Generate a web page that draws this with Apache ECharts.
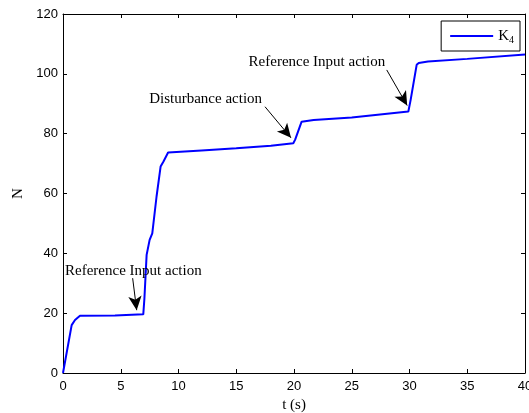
<!DOCTYPE html>
<html><head><meta charset="utf-8">
<script src="https://cdn.jsdelivr.net/npm/echarts@6/dist/echarts.min.js"></script>
<style>html,body{margin:0;padding:0;background:#fff}#c{width:529px;height:413px}</style>
</head><body><div id="c"></div>
<script>
const tValues = [0,0.75,1.04,1.47,4.5,4.6,6.95,7.05,7.24,7.5,7.73,8.1,8.45,8.7,9.1,12,15,18,19.94,20.1,20.66,21.7,25,29.9,30.1,30.62,30.8,31.6,35,40];
const nValues = [0,16,17.7,19.1,19.2,19.5,19.6,25,39.5,44.5,46.7,59,69,70.7,73.7,74.4,75.1,76,76.8,78,84,84.6,85.4,87.4,91.3,103,103.6,104.1,105,106.5];
const xTicks = {min:0,max:40,interval:5};
const yTicks = {min:0,max:120,interval:20};
const annotationTexts = ['Reference Input action','Disturbance action','Reference Input action'];
const annotationTextPos = [[6.09,34.2],[12.35,91.7],[21.98,103.9]];
const arrowStarts = [[6.03,31.7],[17.49,89],[28.03,101.3]];
const arrowEnds = [[6.38,21],[19.74,78.6],[29.8,89.4]];
const seriesName = 'K4';

const chart = echarts.init(document.getElementById('c'));
const data = tValues.map((t,i)=>[t,nValues[i]]);
const axisCommon = {
  type:'value', splitLine:{show:false},
  axisLine:{show:true,onZero:false,lineStyle:{color:'#000',width:1}},
  axisTick:{show:true,inside:true,length:4,lineStyle:{color:'#000'}}
};
chart.setOption({
  animation:false,
  grid:{left:63,right:4,top:14,bottom:40,containLabel:false,outerBoundsMode:'none'},
  legend:{
    show:true, right:9, top:21, orient:'vertical',
    borderColor:'#000', borderWidth:1, padding:[6,6,6,9],
    itemWidth:43, itemHeight:2, itemGap:4,
    data:[{name:seriesName,icon:'rect'}],
    formatter:()=>'K{sub|4}',
    textStyle:{fontFamily:'Liberation Serif',fontSize:15,color:'#000',lineHeight:18,
      rich:{sub:{fontFamily:'Liberation Serif',fontSize:10,verticalAlign:'bottom',padding:[9,0,0,0]}}}
  },
  xAxis:[
    Object.assign({},axisCommon,xTicks,{position:'bottom',
      name:'t (s)',nameLocation:'middle',nameGap:25,
      nameTextStyle:{fontFamily:'Liberation Serif',fontSize:15,color:'#000'},
      axisLabel:{fontFamily:'Liberation Sans',fontSize:13,color:'#000',margin:7}}),
    Object.assign({},axisCommon,xTicks,{position:'top',axisLabel:{show:false}})
  ],
  yAxis:[
    Object.assign({},axisCommon,yTicks,{position:'left',
      name:'N',nameLocation:'middle',nameGap:34,
      nameTextStyle:{fontFamily:'Liberation Serif',fontSize:15,color:'#000'},
      axisLabel:{fontFamily:'Liberation Sans',fontSize:13,color:'#000',margin:5}}),
    Object.assign({},axisCommon,yTicks,{position:'right',axisLabel:{show:false}})
  ],
  series:[{
    name:seriesName,type:'line',data:data,showSymbol:false,symbol:'none',
    lineStyle:{color:'#0000ff',width:2},itemStyle:{color:'#0000ff'},
    markLine:{
      silent:true,symbol:['none','arrow'],symbolSize:[10,14],
      label:{show:false},
      lineStyle:{color:'#000',width:1,type:'solid'},
      emphasis:{disabled:true},
      data:arrowStarts.map((s,i)=>[{coord:s},{coord:arrowEnds[i]}])
    },
    markPoint:{
      silent:true,symbol:'circle',symbolSize:0,
      label:{show:true,position:'inside',fontFamily:'Liberation Serif',fontSize:15,color:'#000'},
      data:annotationTextPos.map((p,i)=>({coord:p,value:annotationTexts[i],
        label:{formatter:annotationTexts[i]}}))
    }
  }]
});
</script></body></html>
